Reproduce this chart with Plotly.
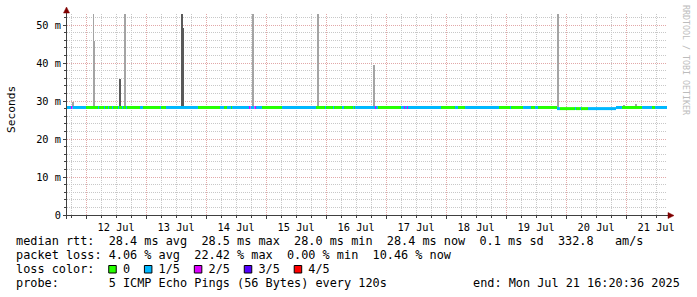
import numpy as np
import pandas as pd
import plotly.graph_objects as go

# ---------------- data ----------------
START = pd.Timestamp("2025-07-11 16:20:36")
END = pd.Timestamp("2025-07-21 16:20:36")

# edges (hours after START) of the loss-coloured pieces of the median line
seg_edges_h = [0.0, 1.6, 2.12, 7.6, 12.4, 12.8, 14.8, 15.2, 16.4, 16.8, 18.0, 18.4,
               20.4, 20.8, 22.0, 22.4, 23.6, 24.0, 29.2, 30.4, 37.2, 37.6, 39.6,
               52.4, 61.2, 62.8, 64.0, 65.6, 66.0, 72.8, 73.4, 75.0, 75.6, 78.0,
               86.0, 99.6, 103.2, 103.6, 106.4, 106.8, 110.0, 110.8, 114.4, 114.8,
               115.2, 123.2, 123.6, 124.4, 133.6, 134.8, 135.2, 136.0, 136.4, 149.6,
               155.2, 156.4, 159.2, 172.8, 177.2, 177.6, 182.4, 185.6, 187.2, 188.4,
               196.0, 197.2, 203.2, 203.6, 205.2, 205.6, 208.4, 219.6, 222.0, 230.0,
               234.0, 235.2, 240.0]
# lost pings (out of 5) for each piece
seg_loss = [1, 2, 1, 0, 1, 0, 1, 0, 1, 0, 1, 0,
            1, 0, 1, 0, 1, 0, 1, 0, 1, 0, 1,
            0, 1, 0, 1, 0, 1, 2, 1, 2, 1, 0,
            1, 0, 1, 0, 1, 0, 1, 0, 1, 0,
            1, 2, 1, 0, 1, 2, 1, 2, 1, 0,
            1, 0, 1, 0, 1, 0, 1, 0, 1, 0,
            1, 0, 1, 0, 1, 0, 1, 1, 0, 1,
            0, 1]

# median rtt (ms), piecewise constant
med_edges_h = [0.0, 196.0, 219.6, 240.0]
med_ms = [28.3, 28.0, 28.3]

# smoke spikes: time (h after START), top (ms), dark shade?
spike_h = [2.4, 10.6, 11.0, 21.32, 23.0, 23.4, 46.12, 46.48, 74.52, 100.52,
           122.92, 196.52, 222.8, 227.48]
spike_top_ms = [29.8, 56.0, 45.8, 35.8, 56.0, 56.0, 56.0, 49.1, 56.0, 56.0,
                39.5, 56.0, 29.0, 29.2]
spike_dark = [False, False, False, True, False, False, True, True, False, False,
              False, False, False, False]

loss_labels = ["0", "1/5", "2/5", "3/5", "4/5"]
loss_colors = ["#26ff00", "#00b8ff", "#dd00ff", "#5500ff", "#ff0000"]

y_tick_ms = [0, 10, 20, 30, 40, 50]
y_tick_text = ["0", "10 m", "20 m", "30 m", "40 m", "50 m"]
Y_MAX = 52.9

legend_l1 = "median rtt:  28.4 ms avg  28.5 ms max  28.0 ms min  28.4 ms now  0.1 ms sd  332.8   am/s"
legend_l2 = "packet loss: 4.06 % avg  22.42 % max  0.00 % min  10.46 % now"
legend_l4 = "probe:       5 ICMP Echo Pings (56 Bytes) every 120s"
legend_end = "end: Mon Jul 21 16:20:36 2025"
watermark = "RRDTOOL / TOBI OETIKER"

# ---------------- styles ----------------
AXIS = "#404040"
ARROW = "#800000"
GRID = "#c8c8c8"
MGRID = "#e2a8a8"
MONO = "DejaVu Sans Mono"
BAND_PX = 3            # thickness of the median line
SPIKE_W_H = 0.38       # spike width in hours
L, R, T, B = 67, 30, 14, 82
W, H = 697, 297
PW, PH = W - L - R, H - T - B
CW = 0.602 * 11.85


def px2x(px):
    return (px - L) / PW


def py2y(py):
    return (H - B - py) / PH


def ts(h):
    return (START + pd.to_timedelta(h, unit="h")).to_pydatetime()


def median_at(h):
    i = int(np.searchsorted(med_edges_h, h, side="right") - 1)
    return med_ms[min(max(i, 0), len(med_ms) - 1)]


HOUR_MS = 3600 * 1000

fig = go.Figure()

# smoke spikes
for dark in (False, True):
    xs, ys, bs = [], [], []
    for h, top, d in zip(spike_h, spike_top_ms, spike_dark):
        if d != dark:
            continue
        base = median_at(h)
        xs.append(ts(h))
        bs.append(base)
        ys.append(top - base)
    fig.add_trace(go.Bar(x=xs, y=ys, base=bs, width=[SPIKE_W_H * HOUR_MS] * len(xs),
                         marker=dict(color="#5a5a5a" if dark else "#a4a4a4", line=dict(width=0)),
                         hoverinfo="skip"))

# median line coloured by loss
for lvl, col in enumerate(loss_colors):
    xs, ys = [], []
    for i, loss in enumerate(seg_loss):
        if loss != lvl:
            continue
        h0, h1 = seg_edges_h[i], seg_edges_h[i + 1]
        m = median_at((h0 + h1) / 2)
        xs += [ts(h0), ts(h1), None]
        ys += [m, m, None]
    if xs:
        fig.add_trace(go.Scatter(x=xs, y=ys, mode="lines", connectgaps=False,
                                 line=dict(color=col, width=BAND_PX), hoverinfo="skip"))

shapes = [
    dict(type="line", xref="paper", yref="paper", x0=px2x(L - 4), x1=px2x(L + PW + 5),
         y0=py2y(H - B + 0.5), y1=py2y(H - B + 0.5), line=dict(color=AXIS, width=1)),
    dict(type="line", xref="paper", yref="paper", x0=px2x(L - 0.5), x1=px2x(L - 0.5),
         y0=py2y(H - B + 4), y1=py2y(9), line=dict(color=AXIS, width=1)),
    dict(type="path", xref="paper", yref="paper",
         path=f"M {px2x(L-3.5)},{py2y(13)} L {px2x(L+2.5)},{py2y(13)} L {px2x(L-0.5)},{py2y(7)} Z",
         fillcolor=ARROW, line=dict(color=ARROW, width=0.5)),
    dict(type="path", xref="paper", yref="paper",
         path=f"M {px2x(L+PW+1)},{py2y(H-B-2.5)} L {px2x(L+PW+1)},{py2y(H-B+3.5)} L {px2x(L+PW+7)},{py2y(H-B+0.5)} Z",
         fillcolor=ARROW, line=dict(color=ARROW, width=0.5)),
]

nb = lambda s: s.replace(" ", "\u00a0")
TEXT_X = 16
annotations = [
    dict(text="Seconds", xref="paper", yref="paper", x=px2x(11), y=py2y(110),
         textangle=-90, showarrow=False, xanchor="center", yanchor="middle",
         font=dict(family=MONO, size=11.2, color="#000")),
    dict(text=nb(watermark), xref="paper", yref="paper", x=px2x(686), y=py2y(60),
         textangle=90, showarrow=False, xanchor="center", yanchor="middle",
         font=dict(family=MONO, size=8.3, color="#bcbcbc")),
]
# legend lines
line3 = "loss color:"
box_cols = []
for lab in loss_labels:
    box_cols.append(len(line3) + 2)
    line3 += "   " + " " + lab
for txt, cy in ((legend_l1, 241), (legend_l2, 255), (line3, 269), (legend_l4, 283)):
    annotations.append(dict(text=nb(txt), xref="paper", yref="paper", x=px2x(TEXT_X - 1), y=py2y(cy),
                            showarrow=False, xanchor="left", yanchor="middle", borderpad=0,
                            font=dict(family=MONO, size=11.85, color="#000")))
annotations.append(dict(text=nb(legend_end), xref="paper", yref="paper", x=px2x(681), y=py2y(283),
                        showarrow=False, xanchor="right", yanchor="middle", borderpad=0,
                        font=dict(family=MONO, size=11.85, color="#000")))
for col, c in zip(box_cols, loss_colors):
    x0 = TEXT_X + col * CW
    shapes.append(dict(type="rect", xref="paper", yref="paper",
                       x0=px2x(x0), x1=px2x(x0 + 7.5), y0=py2y(273), y1=py2y(265.5),
                       fillcolor=c, line=dict(color="#000", width=1)))

fig.update_layout(
    width=W, height=H, margin=dict(l=L, r=R, t=T, b=B),
    paper_bgcolor="white", plot_bgcolor="white", showlegend=False,
    barmode="overlay", bargap=0,
    font=dict(family=MONO, size=10.3, color="#000"),
    shapes=shapes, annotations=annotations,
    xaxis=dict(type="date", range=[START.to_pydatetime(), END.to_pydatetime()],
               tick0="2025-07-12 00:00:00", dtick=86400000, tickformat="%d %b",
               ticklabelmode="period", showgrid=True, gridcolor=MGRID, griddash="1px,1px",
               gridwidth=1, ticks="outside", ticklen=3, tickcolor=AXIS, showline=False,
               zeroline=False, tickfont=dict(family=MONO, size=10.3, color="#000"),
               minor=dict(tick0="2025-07-12 00:00:00", dtick=6 * HOUR_MS, showgrid=True,
                          gridcolor=GRID, griddash="1px,1px", gridwidth=1,
                          ticks="outside", ticklen=2, tickcolor=AXIS),
               fixedrange=True),
    yaxis=dict(range=[0, Y_MAX], tickmode="array", tickvals=y_tick_ms, ticktext=y_tick_text,
               showgrid=True, gridcolor=MGRID, griddash="1px,1px", gridwidth=1,
               ticks="outside", ticklen=3, tickcolor=AXIS, showline=False, zeroline=False,
               tickfont=dict(family=MONO, size=10.3, color="#000"),
               minor=dict(tickmode="linear", tick0=0, dtick=2, showgrid=True, gridcolor=GRID,
                          griddash="1px,1px", gridwidth=1, ticks="outside", ticklen=2,
                          tickcolor=AXIS),
               fixedrange=True),
)

fig.write_html("out.html")
